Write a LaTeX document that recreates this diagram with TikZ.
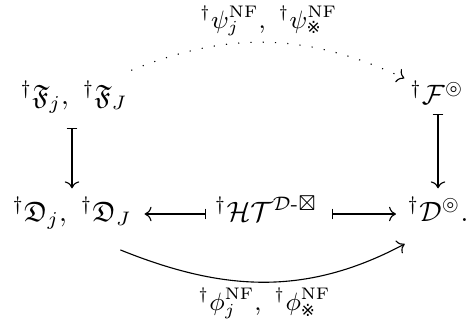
\documentclass[tikz,border=0pt]{standalone}
\usepackage{amsmath,amssymb}
\usepackage{fontspec}
\newfontfamily\symb{DejaVu Sans}
\usetikzlibrary{cd}
\newcommand{\refmark}{\text{\symb ※}}
\begin{document}
\begin{tikzpicture}[x=0.3577pt,y=0.3577pt,
  obj/.style={anchor=base, inner sep=3pt},
  arr/.style={line width=0.4pt, -{cm to}},
  maps/.style={line width=0.4pt, {cm bar}-{cm to}},
  lab/.style={inner sep=2pt, font=\small}]
\useasboundingbox (0,0) rectangle (466,321);
\node[obj] (tl) at (74,216) {$^{\dagger}\mathfrak{F}_j,\ {}^{\dagger}\mathfrak{F}_J$};
\node[obj] (tr) at (437,216) {$^{\dagger}\mathcal{F}^{\circledcirc}$};
\node[obj] (bl) at (72,100) {$^{\dagger}\mathfrak{D}_j,\ {}^{\dagger}\mathfrak{D}_J$};
\node[obj] (mid) at (266,100) {$^{\dagger}\mathcal{H}\mathcal{T}^{\mathcal{D}\text{-}\boxtimes}$};
\node[obj] (br) at (438,100) {$^{\dagger}\mathcal{D}^{\circledcirc}.$};
% vertical
\draw[maps, shorten <=2pt] (tl.south -| bl) -- (bl.north);
\draw[maps] (tr.south -| br) -- (br.north);
% horizontal
\draw[maps, shorten >=1.5pt] ([yshift=2.5pt]mid.base west) -- ([yshift=2.5pt]bl.base east);
\draw[maps, shorten <=2pt, shorten >=1pt] ([yshift=2.5pt]mid.base east) -- ([yshift=2.5pt]br.base west);
% dotted arc
\draw[arr, loosely dotted] ([shift={(-5,2)}]tl.north east) to[out=22,in=155]
  node[lab, midway, above] {${}^{\dagger}\psi_j^{\mathrm{NF}},\ {}^{\dagger}\psi_{\refmark}^{\mathrm{NF}}$}
  ([shift={(3,-6)}]tr.north west);
% bottom arc
\draw[arr] ([shift={(-20,-12)}]bl.south east) to[out=-22,in=208]
  node[lab, midway, below] {${}^{\dagger}\phi_j^{\mathrm{NF}},\ {}^{\dagger}\phi_{\refmark}^{\mathrm{NF}}$}
  ([shift={(6,-14)}]br.south west);
\end{tikzpicture}
\end{document}
